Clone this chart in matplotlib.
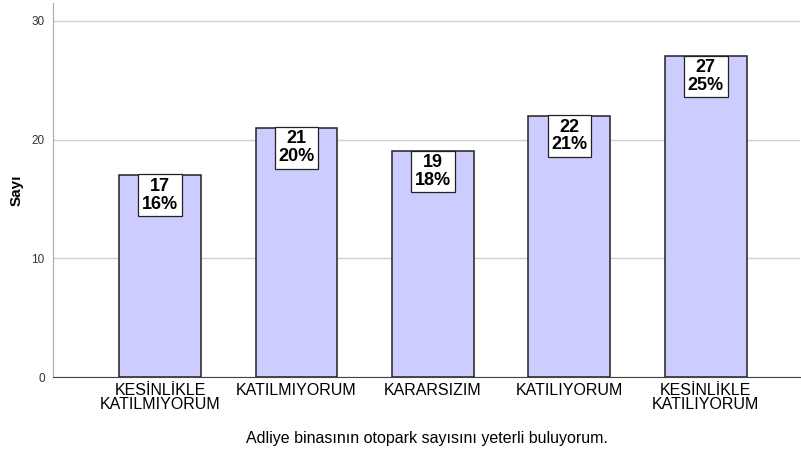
import matplotlib.pyplot as plt

categories = ['KESİNLİKLE\nKATILMIYORUM', 'KATILMIYORUM', 'KARARSIZIM',
              'KATILIYORUM', 'KESİNLİKLE\nKATILIYORUM']
counts = [17, 21, 19, 22, 27]
percents = ['16%', '20%', '18%', '21%', '25%']

plt.rcParams['font.family'] = ['Liberation Sans', 'DejaVu Sans']

fig = plt.figure(figsize=(8.01, 4.54), dpi=100)
ax = fig.add_axes([53 / 801, 1 - 377 / 454, 747 / 801, 374 / 454])

x = list(range(len(categories)))
ax.bar(x, counts, width=0.6, color='#ccccff', edgecolor='#222222',
       linewidth=1.1, zorder=3)

for xi, c, p in zip(x, counts, percents):
    ax.annotate(f'{c}\n{p}', xy=(xi, c), xytext=(0, -2.0),
                textcoords='offset points', ha='center', va='top',
                fontsize=13, fontweight='bold', linespacing=1.05, zorder=4,
                bbox=dict(boxstyle='square,pad=0.2', facecolor='white',
                          edgecolor='#222222', linewidth=0.9))

ax.set_xlim(-0.785, 4.69)
ax.set_ylim(0, 31.5)
ax.set_yticks([0, 10, 20, 30])
ax.grid(axis='y', color='#d0d0d0', linewidth=1.0, zorder=0)
ax.set_xticks(x)
ax.set_xticklabels(categories, fontsize=11.5, linespacing=0.92)
ax.tick_params(axis='x', length=0, pad=4)
ax.tick_params(axis='y', length=0, labelsize=8.5, labelcolor='#333333', pad=6)

for s in ['top', 'right']:
    ax.spines[s].set_visible(False)
ax.spines['left'].set_color('#aaaaaa')
ax.spines['bottom'].set_color('#444444')

ax.set_ylabel('Sayı', fontsize=11, fontweight='bold', labelpad=5.5)
ax.set_xlabel('Adliye binasının otopark sayısını yeterli buluyorum.',
              fontsize=11.5, labelpad=14)

fig.savefig('out.png', dpi=100)
